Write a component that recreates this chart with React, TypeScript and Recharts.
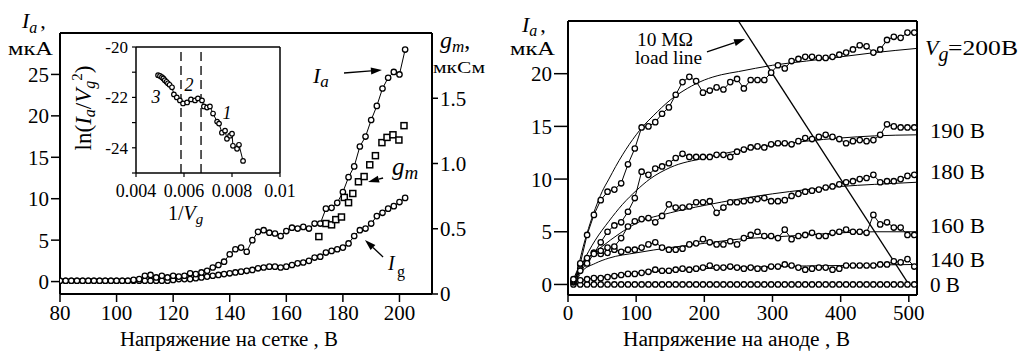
import React from 'react';
import { ComposedChart, Line, XAxis, YAxis, ReferenceLine } from 'recharts';

const FONT = 'Liberation Serif';

// ---------- Left chart: grid voltage sweep ----------
const gridVoltage = [80, 82, 84, 86, 88, 90, 92, 94, 96, 98, 100, 102, 104, 106, 108, 110, 112, 114, 116, 118, 120, 122, 124, 126, 128, 130, 132, 134, 136, 138, 140, 142, 144, 146, 148, 150, 152, 154, 156, 158, 160, 162, 164, 166, 168, 170, 172, 174, 176, 178, 180, 182, 184, 186, 188, 190, 192, 194, 196, 198, 200, 202];
const anodeCurrent = [0.1, 0.1, 0.1, 0.1, 0.1, 0.1, 0.1, 0.1, 0.1, 0.1, 0.1, 0.1, 0.1, 0.2, 0.3, 0.7, 0.8, 0.5, 0.7, 0.5, 0.7, 0.6, 0.7, 1.0, 0.9, 1.1, 1.3, 1.7, 2.0, 2.4, 3.3, 3.9, 4.1, 3.6, 5.0, 6.0, 6.2, 5.9, 5.8, 5.5, 6.1, 6.5, 6.4, 6.6, 6.4, 7.0, 7.0, 8.8, 8.9, 9.5, 10.8, 12.6, 13.9, 16.3, 17.5, 19.5, 21.2, 23.3, 24.6, 25.3, 25.0, 28.0];
const gridCurrent = [0.1, 0.1, 0.1, 0.1, 0.1, 0.1, 0.1, 0.1, 0.1, 0.1, 0.1, 0.1, 0.1, 0.1, 0.1, 0.1, 0.1, 0.1, 0.1, 0.1, 0.2, 0.3, 0.3, 0.3, 0.4, 0.5, 0.6, 0.7, 0.8, 0.9, 1.0, 1.1, 1.2, 1.3, 1.4, 1.6, 1.7, 1.8, 1.8, 1.7, 1.8, 2.0, 2.2, 2.3, 2.5, 2.9, 3.0, 3.5, 3.7, 3.9, 4.1, 4.6, 5.5, 6.2, 6.4, 7.0, 7.9, 8.3, 8.8, 9.1, 9.6, 10.1];
const gmVoltage = [171.5, 174, 176, 177.5, 179.5, 180.5, 182, 183.5, 185.5, 187.5, 189.5, 191.5, 193.8, 195.6, 197.7, 199.8, 201.6];
const transconductance = [0.44, 0.54, 0.53, 0.57, 0.59, 0.74, 0.70, 0.77, 0.86, 0.90, 0.99, 1.06, 1.16, 1.20, 1.22, 1.18, 1.29];
const leftXTicks = [80, 100, 120, 140, 160, 180, 200];
const leftYTicks = [0, 5, 10, 15, 20, 25];
const gmTicks = [0, 0.5, 1, 1.5];

// ---------- Inset ----------
const inverseVg = [0.00492, 0.005, 0.00508, 0.00514, 0.0052, 0.00527, 0.00533, 0.0054, 0.0055, 0.00558, 0.0057, 0.00583, 0.00596, 0.00613, 0.00629, 0.00646, 0.00658, 0.00675, 0.00683, 0.00696, 0.00708, 0.00721, 0.00738, 0.00746, 0.00758, 0.00771, 0.00779, 0.00792, 0.008, 0.00804, 0.00821, 0.00829, 0.00846];
const lnRatio = [-21.12, -21.15, -21.2, -21.25, -21.32, -21.38, -21.44, -21.5, -21.6, -21.88, -22.0, -22.12, -22.24, -22.2, -22.08, -22.12, -22.04, -22.12, -22.36, -22.4, -22.36, -22.64, -22.96, -23.04, -23.4, -23.32, -23.64, -23.52, -23.44, -23.92, -24.04, -23.88, -24.52];
const insetXTicks = [0.004, 0.006, 0.008, 0.01];
const insetYTicks = [-25, -24, -23, -22, -21, -20];
const regionBounds = [0.005875, 0.00671];

// ---------- Right chart: anode voltage sweep ----------
const anodeVoltage = [8, 18, 28, 38, 48, 58, 68, 78, 88, 98, 108, 118, 128, 138, 148, 158, 168, 178, 188, 198, 208, 218, 228, 238, 248, 258, 268, 278, 288, 298, 308, 318, 328, 338, 348, 358, 368, 378, 388, 398, 408, 418, 428, 438, 448, 458, 468, 478, 488, 498, 508];
const ia200 = [0.5, 2.0, 4.7, 6.6, 8.0, 8.8, 9.0, 9.6, 11.4, 12.9, 14.9, 15.0, 15.4, 16.2, 16.8, 18.0, 19.2, 19.7, 19.3, 18.2, 18.4, 18.7, 18.5, 19.2, 19.5, 18.6, 19.4, 19.4, 19.4, 20.1, 20.8, 20.5, 21.2, 21.4, 21.6, 21.6, 21.5, 21.5, 21.6, 21.8, 22.0, 22.3, 22.7, 22.6, 22.0, 22.3, 23.2, 23.5, 23.4, 23.9, 23.9];
const ia190 = [0.4, 1.3, 2.0, 2.9, 4.0, 5.0, 5.6, 5.9, 6.9, 8.2, 10.7, 10.4, 11.0, 11.2, 11.5, 12.0, 12.4, 12.1, 12.1, 12.1, 12.1, 12.3, 12.3, 12.1, 12.6, 12.8, 13.0, 13.1, 13.0, 13.3, 13.4, 13.4, 13.3, 13.6, 13.9, 13.8, 14.0, 14.2, 14.0, 13.8, 13.4, 13.6, 13.7, 13.6, 13.7, 14.2, 15.2, 15.0, 14.9, 14.9, 14.9];
const ia180 = [0.3, 1.9, 2.5, 3.0, 3.2, 3.5, 3.6, 4.4, 5.5, 6.0, 6.2, 6.3, 5.9, 6.5, 7.6, 7.3, 7.3, 7.4, 7.8, 7.8, 7.9, 6.8, 7.3, 7.8, 7.8, 7.9, 8.0, 8.1, 8.2, 7.9, 7.9, 8.0, 8.4, 8.6, 8.8, 8.9, 9.0, 9.2, 9.3, 9.5, 9.7, 9.8, 10.0, 10.1, 10.4, 9.7, 9.8, 9.8, 10.0, 10.3, 10.4];
const ia160 = [0.3, 1.5, 2.4, 3.0, 2.9, 3.0, 3.3, 3.1, 3.3, 3.3, 3.5, 3.8, 4.0, 3.5, 3.3, 3.3, 3.4, 3.8, 3.9, 4.3, 4.0, 3.8, 3.8, 4.1, 3.8, 4.4, 4.7, 5.0, 4.6, 4.6, 4.4, 5.2, 4.3, 4.6, 4.7, 4.9, 4.6, 4.6, 4.9, 5.0, 5.2, 5.0, 5.0, 4.9, 6.6, 5.7, 5.9, 5.4, 5.4, 4.7, 4.7];
const ia140 = [0.2, 0.4, 0.5, 0.6, 0.6, 0.7, 0.8, 0.9, 1.0, 1.0, 1.1, 1.2, 1.4, 1.3, 1.3, 1.4, 1.5, 1.4, 1.5, 1.6, 1.8, 1.6, 1.6, 1.7, 1.6, 1.5, 1.6, 1.5, 1.5, 1.7, 1.7, 1.9, 1.8, 1.6, 1.4, 1.5, 1.6, 1.6, 1.4, 1.5, 1.8, 1.8, 1.8, 1.8, 1.8, 1.9, 1.9, 2.2, 2.1, 2.4, 1.7];
const ia0 = [0, 0, 0, 0, 0, 0, 0, 0, 0, 0, 0, 0, 0, 0, 0, 0, 0, 0, 0, 0, 0, 0, 0, 0, 0, 0, 0, 0, 0, 0, 0, 0, 0, 0, 0, 0, 0, 0, 0, 0, 0, 0, 0, 0, 0, 0, 0, 0, 0, 0, 0];

const fit200V = [10, 20, 30, 40, 50, 60, 70, 80, 90, 100, 110, 125, 150, 175, 200, 225, 250, 300, 350, 400, 450, 512];
const fit200I = [0, 3.0, 5.3, 7.2, 8.8, 10.0, 11.2, 12.3, 13.3, 14.2, 15.0, 16.0, 17.5, 18.6, 19.4, 19.9, 20.2, 20.8, 21.2, 21.6, 22.0, 22.4];
const fit190V = [10, 20, 30, 40, 60, 80, 100, 120, 150, 200, 250, 300, 350, 400, 450, 512];
const fit190I = [0, 1.8, 3.1, 4.2, 6.0, 7.6, 8.9, 10.0, 11.1, 12.0, 12.7, 13.2, 13.6, 13.9, 14.1, 14.2];
const fit180V = [10, 20, 30, 50, 75, 100, 150, 200, 250, 300, 350, 400, 450, 512];
const fit180I = [0, 1.6, 2.5, 3.6, 4.8, 5.8, 6.8, 7.5, 8.1, 8.6, 9.0, 9.3, 9.5, 9.7];
const fit160V = [10, 20, 40, 60, 100, 150, 200, 250, 300, 350, 400, 450, 512];
const fit160I = [0, 1.2, 2.0, 2.5, 3.0, 3.5, 3.9, 4.3, 4.5, 4.7, 4.9, 5.0, 5.0];
const fit140V = [10, 30, 60, 100, 150, 200, 300, 400, 512];
const fit140I = [0, 0.5, 0.8, 1.1, 1.3, 1.5, 1.7, 1.8, 1.9];
const loadLineV = [250, 500];
const loadLineI = [25, 0];
const rightXTicks = [0, 100, 200, 300, 400, 500];
const rightYTicks = [0, 5, 10, 15, 20];

// ---------- build tables ----------
const leftRows = gridVoltage.map((v, i) => ({ v, ia: anodeCurrent[i], ig: gridCurrent[i] }));
const gmRows = gmVoltage.map((v, i) => ({ v, gm: transconductance[i] }));
const insetRows = inverseVg.map((x, i) => ({ x, y: lnRatio[i] }));
const rightRows = anodeVoltage.map((v, i) => ({ v, a200: ia200[i], a190: ia190[i], a180: ia180[i], a160: ia160[i], a140: ia140[i], a0: ia0[i] }));
const mkFit = (vs: number[], is: number[]) => vs.map((v, i) => ({ v, f: is[i] }));
const fits = [mkFit(fit200V, fit200I), mkFit(fit190V, fit190I), mkFit(fit180V, fit180I), mkFit(fit160V, fit160I), mkFit(fit140V, fit140I)];
const loadRows = mkFit(loadLineV, loadLineI);

const circleDot = { r: 2.7, fill: '#fff', stroke: '#000', strokeWidth: 1.3 };
const smallDot = { r: 2.3, fill: '#fff', stroke: '#000', strokeWidth: 1.2 };
const tickStyle = { fill: '#000', fontSize: 21, fontFamily: FONT };
const axisStyle = { stroke: '#000', strokeWidth: 2 };
const tickLine = { stroke: '#000', strokeWidth: 1.5 };

const squareDot = (p: any) => (
  <rect key={`sq-${p.index}`} x={p.cx - 3} y={p.cy - 3} width={6} height={6} fill="#fff" stroke="#000" strokeWidth={1.5} />
);

const arrowShape = (p: any) => {
  const { x1, y1, x2, y2 } = p;
  const a = Math.atan2(y2 - y1, x2 - x1);
  const L = 11;
  const W = 3.5;
  const bx = x2 - L * Math.cos(a);
  const by = y2 - L * Math.sin(a);
  const pts = `${x2},${y2} ${bx - W * Math.sin(a)},${by + W * Math.cos(a)} ${bx + W * Math.sin(a)},${by - W * Math.cos(a)}`;
  return (
    <g>
      <line x1={x1} y1={y1} x2={bx} y2={by} stroke="#000" strokeWidth={1.3} />
      <polygon points={pts} fill="#000" />
    </g>
  );
};

export default function App() {
  return (
    <div style={{ position: 'absolute', left: 0, top: 0, width: 1020, height: 354, background: '#fff', fontFamily: FONT }}>
      {/* Left chart */}
      <div style={{ position: 'absolute', left: 0, top: 0 }}>
        <ComposedChart width={520} height={354} data={leftRows} margin={{ top: 33, right: 0, bottom: 30, left: 0 }}>
          <XAxis type="number" dataKey="v" domain={[80, 211.5]} allowDataOverflow ticks={leftXTicks} height={30}
            tickSize={8} tickMargin={3} axisLine={axisStyle} tickLine={tickLine} tick={tickStyle} />
          <YAxis yAxisId="left" type="number" domain={[-1.5, 30]} allowDataOverflow ticks={leftYTicks} width={60}
            tickSize={9} tickMargin={2} axisLine={axisStyle} tickLine={tickLine} tick={tickStyle} />
          <YAxis yAxisId="right" orientation="right" type="number" domain={[0, 2]} allowDataOverflow ticks={gmTicks} width={88}
            tickSize={6} tickMargin={2} axisLine={axisStyle} tickLine={tickLine} tick={tickStyle}
            tickFormatter={(v: number) => (v === 0 ? '0' : v.toFixed(1))} />
          <ReferenceLine yAxisId="left" y={30} stroke="#000" strokeWidth={2} />
          <Line yAxisId="left" type="linear" dataKey="ig" stroke="#000" strokeWidth={1} dot={circleDot} isAnimationActive={false} />
          <Line yAxisId="left" type="linear" dataKey="ia" stroke="#000" strokeWidth={1} dot={circleDot} isAnimationActive={false} />
          <Line yAxisId="right" data={gmRows} type="linear" dataKey="gm" stroke="none" dot={squareDot} isAnimationActive={false} />
          <ReferenceLine yAxisId="left" segment={[{ x: 180.4, y: 25.17 }, { x: 193.8, y: 25.53 }]} shape={arrowShape} />
          <ReferenceLine yAxisId="left" segment={[{ x: 194.2, y: 12.5 }, { x: 188.9, y: 12.02 }]} shape={arrowShape} />
          <ReferenceLine yAxisId="left" segment={[{ x: 194.2, y: 2.97 }, { x: 187.8, y: 5.02 }]} shape={arrowShape} />
        </ComposedChart>
      </div>

      {/* Inset */}
      <div style={{ position: 'absolute', left: 0, top: 0 }}>
        <ComposedChart width={300} height={240} data={insetRows} margin={{ top: 47, right: 20, bottom: 37, left: 0 }}>
          <XAxis type="number" dataKey="x" domain={[0.004, 0.01]} allowDataOverflow ticks={insetXTicks} height={30}
            tickSize={4} tickMargin={7} axisLine={{ stroke: '#000', strokeWidth: 1.5 }} tickLine={{ stroke: '#000', strokeWidth: 1.2 }}
            tick={{ fill: '#000', fontSize: 18, fontFamily: FONT }}
            tickFormatter={(v: number) => (v === 0.01 ? '0.01' : v.toFixed(3))} />
          <YAxis type="number" domain={[-25, -20]} allowDataOverflow ticks={insetYTicks} width={136}
            tickSize={4} tickMargin={4} axisLine={{ stroke: '#000', strokeWidth: 1.5 }} tickLine={{ stroke: '#000', strokeWidth: 1.2 }}
            tick={{ fill: '#000', fontSize: 17, fontFamily: FONT }}
            tickFormatter={(v: number) => (v % 2 === 0 ? String(v) : '')} />
          <ReferenceLine y={-20} stroke="#000" strokeWidth={1.5} />
          <ReferenceLine x={0.01} stroke="#000" strokeWidth={1.5} />
          <ReferenceLine x={regionBounds[0]} stroke="#000" strokeWidth={1.3} strokeDasharray="9 5" />
          <ReferenceLine x={regionBounds[1]} stroke="#000" strokeWidth={1.3} strokeDasharray="9 5" />
          <Line type="linear" dataKey="y" stroke="#000" strokeWidth={1} dot={smallDot} isAnimationActive={false} />
        </ComposedChart>
      </div>

      {/* Right chart */}
      <div style={{ position: 'absolute', left: 500, top: 0 }}>
        <ComposedChart width={520} height={354} data={rightRows} margin={{ top: 21, right: 103, bottom: 29, left: 0 }}>
          <XAxis type="number" dataKey="v" domain={[0, 512]} allowDataOverflow ticks={rightXTicks} height={30}
            tickSize={7} tickMargin={3} axisLine={axisStyle} tickLine={tickLine} tick={tickStyle} />
          <YAxis type="number" domain={[-1, 25]} allowDataOverflow ticks={rightYTicks} width={68}
            tickSize={14} tickMargin={2} axisLine={axisStyle} tickLine={tickLine} tick={tickStyle} />
          <ReferenceLine y={25} stroke="#000" strokeWidth={2} />
          <ReferenceLine x={512} stroke="#000" strokeWidth={2} />
          {fits.map((d, k) => (
            <Line key={`fit${k}`} data={d} type="monotone" dataKey="f" stroke="#000" strokeWidth={1} dot={false} isAnimationActive={false} />
          ))}
          <Line data={loadRows} type="linear" dataKey="f" stroke="#000" strokeWidth={1.3} dot={false} isAnimationActive={false} />
          <Line type="linear" dataKey="a0" stroke="#000" strokeWidth={1} dot={circleDot} isAnimationActive={false} />
          <Line type="linear" dataKey="a140" stroke="#000" strokeWidth={1} dot={circleDot} isAnimationActive={false} />
          <Line type="linear" dataKey="a160" stroke="#000" strokeWidth={1} dot={circleDot} isAnimationActive={false} />
          <Line type="linear" dataKey="a180" stroke="#000" strokeWidth={1} dot={circleDot} isAnimationActive={false} />
          <Line type="linear" dataKey="a190" stroke="#000" strokeWidth={1} dot={circleDot} isAnimationActive={false} />
          <Line type="linear" dataKey="a200" stroke="#000" strokeWidth={1} dot={circleDot} isAnimationActive={false} />
          <ReferenceLine segment={[{ x: 203.9, y: 22.06 }, { x: 259.7, y: 23.29 }]} shape={arrowShape} />
        </ComposedChart>
      </div>

      {/* Text overlay */}
      <svg width={1020} height={354} style={{ position: 'absolute', left: 0, top: 0, pointerEvents: 'none' }} fontFamily={FONT} fill="#000">
        {/* left chart axis titles */}
        <text x={22} y={28} fontSize={22}>
          <tspan fontStyle="italic">I</tspan>
          <tspan fontStyle="italic" fontSize={16} dy={5}>a</tspan>
          <tspan dy={-5} dx={3}>,</tspan>
        </text>
        <text x={8} y={55} fontSize={19} textLength={45} lengthAdjust="spacingAndGlyphs">мкА</text>
        <text x={440} y={48} fontSize={24}>
          <tspan fontStyle="italic">g</tspan>
          <tspan fontStyle="italic" fontSize={17} dy={4}>m</tspan>
          <tspan dy={-4}>,</tspan>
        </text>
        <text x={433} y={73} fontSize={17} textLength={52} lengthAdjust="spacingAndGlyphs">мкСм</text>
        <text x={120} y={346} fontSize={20} textLength={218} lengthAdjust="spacingAndGlyphs">Напряжение на сетке , В</text>

        {/* inset labels */}
        <text transform="translate(91,108) rotate(-90)" textAnchor="middle" fontSize={23}>
          ln(
          <tspan fontStyle="italic">I</tspan>
          <tspan fontStyle="italic" fontSize={16} dy={4}>a</tspan>
          <tspan dy={-4}>/</tspan>
          <tspan fontStyle="italic">V</tspan>
          <tspan fontStyle="italic" fontSize={16} dy={4}>g</tspan>
          <tspan fontSize={15} dy={-13}>2</tspan>
          <tspan dy={9}>)</tspan>
        </text>
        <text x={168} y={220} fontSize={20}>
          1/<tspan fontStyle="italic">V</tspan>
          <tspan fontStyle="italic" fontSize={15} dy={4}>g</tspan>
        </text>
        <text x={156} y={103} fontSize={18} fontStyle="italic" textAnchor="middle">3</text>
        <text x={189} y={91} fontSize={18} fontStyle="italic" textAnchor="middle">2</text>
        <text x={227} y={119} fontSize={18} fontStyle="italic" textAnchor="middle">1</text>

        {/* left chart series labels */}
        <text x={313} y={83} fontSize={22} fontStyle="italic">
          I<tspan fontSize={17} dy={4}>a</tspan>
        </text>
        <text x={392} y={175} fontSize={25} fontStyle="italic">
          g<tspan fontSize={19} dy={4}>m</tspan>
        </text>
        <text x={388} y={270} fontSize={20} fontStyle="italic">I</text>
        <text x={397} y={277} fontSize={16}>g</text>

        {/* right chart axis titles */}
        <text x={522} y={32} fontSize={22}>
          <tspan fontStyle="italic">I</tspan>
          <tspan fontStyle="italic" fontSize={16} dy={4}>a</tspan>
          <tspan dy={-4} dx={3}>,</tspan>
        </text>
        <text x={510} y={55} fontSize={19} textLength={45} lengthAdjust="spacingAndGlyphs">мкА</text>
        <text x={623} y={346} fontSize={20} textLength={227} lengthAdjust="spacingAndGlyphs">Напряжение на аноде , В</text>

        {/* load line label */}
        <text x={637} y={46} fontSize={18} textLength={56} lengthAdjust="spacingAndGlyphs">10 MΩ</text>
        <text x={635} y={64} fontSize={18} textLength={67} lengthAdjust="spacingAndGlyphs">load line</text>

        {/* curve labels */}
        <text x={925} y={55} fontSize={22}>
          <tspan fontStyle="italic">V</tspan>
          <tspan fontStyle="italic" fontSize={20} dy={6}>g</tspan>
        </text>
        <text x={948} y={55} fontSize={22} textLength={70} lengthAdjust="spacingAndGlyphs">=200В</text>
        <text x={930} y={138} fontSize={22} textLength={55} lengthAdjust="spacingAndGlyphs">190 В</text>
        <text x={930} y={179} fontSize={22} textLength={55} lengthAdjust="spacingAndGlyphs">180 В</text>
        <text x={930} y={233} fontSize={22} textLength={55} lengthAdjust="spacingAndGlyphs">160 В</text>
        <text x={930} y={267} fontSize={22} textLength={55} lengthAdjust="spacingAndGlyphs">140 В</text>
        <text x={930} y={292} fontSize={22} textLength={30} lengthAdjust="spacingAndGlyphs">0 В</text>
      </svg>
    </div>
  );
}
